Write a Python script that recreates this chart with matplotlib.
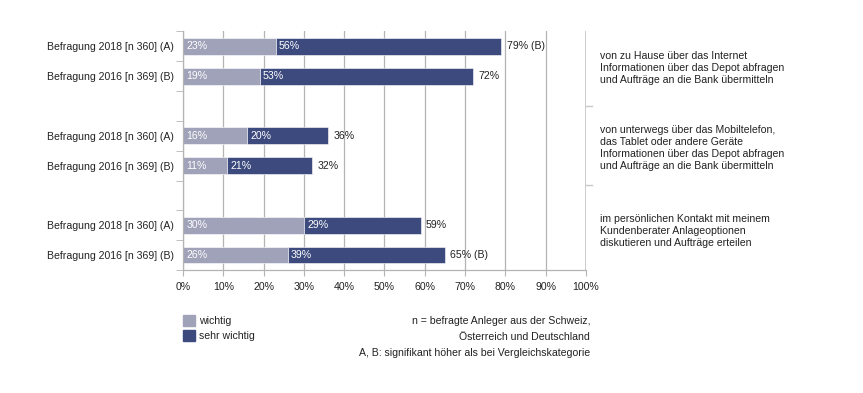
import matplotlib
matplotlib.use("Agg")
import matplotlib.pyplot as plt
import numpy as np

plt.rcParams["font.family"] = ["Liberation Sans", "DejaVu Sans"]

# --- data -------------------------------------------------------------------
row_labels = [
    "Befragung 2018 [n 360] (A)", "Befragung 2016 [n 369] (B)",
    "Befragung 2018 [n 360] (A)", "Befragung 2016 [n 369] (B)",
    "Befragung 2018 [n 360] (A)", "Befragung 2016 [n 369] (B)",
]
wichtig = [23, 19, 16, 11, 30, 26]
sehr_wichtig = [56, 53, 20, 21, 29, 39]
totals = [79, 72, 36, 32, 59, 65]
total_suffix = [" (B)", "", "", "", "", " (B)"]
group_labels = [
    "von zu Hause über das Internet\nInformationen über das Depot abfragen\nund Aufträge an die Bank übermitteln",
    "von unterwegs über das Mobiltelefon,\ndas Tablet oder andere Geräte\nInformationen über das Depot abfragen\nund Aufträge an die Bank übermitteln",
    "im persönlichen Kontakt mit meinem\nKundenberater Anlageoptionen\ndiskutieren und Aufträge erteilen",
]
x_ticks = list(range(0, 101, 10))
notes = [
    "n = befragte Anleger aus der Schweiz,",
    "Österreich und Deutschland",
    "A, B: signifikant höher als bei Vergleichskategorie",
]

LIGHT = "#9fa2b8"
DARK = "#3c4a7d"
GRID = "#b4b4b4"
TXT = "#222222"
FS = 7.6

# bar slots: two bars per group, one empty slot between groups
ypos = [0.5, 1.5, 3.5, 4.5, 6.5, 7.5]
# right-hand text blocks and their dividers (slot units)
label_centers = [1.23, 3.92, 6.69]
dividers = [2.49, 5.14]

fig = plt.figure(figsize=(8.63, 3.93), dpi=100)
ax = fig.add_axes([0.212, 0.313, 0.467, 0.607])

for x in x_ticks[:-1]:
    ax.axvline(x, color=GRID, lw=0.9, zorder=0)
ax.axvline(100, color="#c8c8c8", lw=2.0, zorder=0)

h = 0.56
ax.barh(ypos, wichtig, height=h, color=LIGHT, edgecolor="white", lw=0.4, zorder=2)
ax.barh(ypos, sehr_wichtig, left=wichtig, height=h, color=DARK,
        edgecolor="white", lw=0.4, zorder=2)

for y, a, b, t, s in zip(ypos, wichtig, sehr_wichtig, totals, total_suffix):
    ax.text(0.8, y, f"{a}%", color="white", va="center", ha="left", fontsize=FS, zorder=3)
    ax.text(a + 0.8, y, f"{b}%", color="white", va="center", ha="left", fontsize=FS, zorder=3)
    ax.text(t + 1.3, y, f"{t}%{s}", color=TXT, va="center", ha="left", fontsize=FS, zorder=3)

ax.set_xlim(0, 100)
ax.set_ylim(8, 0)

# y-axis: row labels and group dividers
ax.set_yticks(ypos)
ax.set_yticklabels(row_labels, fontsize=FS, color=TXT)
ax.tick_params(axis="y", which="major", length=0, pad=6.5)
ax.set_yticks(np.arange(0, 9), minor=True)
ax.tick_params(axis="y", which="minor", length=5, color=GRID, direction="out")

ax.set_xticks(x_ticks)
ax.set_xticklabels([f"{x}%" for x in x_ticks], fontsize=FS, color=TXT)
ax.tick_params(axis="x", length=4, color=GRID, pad=5)

for side in ["top", "right"]:
    ax.spines[side].set_visible(False)
ax.spines["left"].set_color(GRID)
ax.spines["left"].set_linewidth(0.9)
ax.spines["bottom"].set_color(GRID)
ax.spines["bottom"].set_linewidth(0.9)

# small dividers right of the 100% line
for yy in dividers:
    ax.plot([100, 101.6], [yy, yy], color="#c8c8c8", lw=1.0, clip_on=False)

for yc, lab in zip(label_centers, group_labels):
    ax.text(103.6, yc, lab, fontsize=FS, va="center", ha="left", color=TXT,
            linespacing=1.26)

# legend
fig.patches.append(plt.Rectangle((183 / 863, 1 - 326 / 393), 12 / 863, 11 / 393,
                                 transform=fig.transFigure, color=LIGHT))
fig.patches.append(plt.Rectangle((183 / 863, 1 - 341 / 393), 12 / 863, 11 / 393,
                                 transform=fig.transFigure, color=DARK))
fig.text(199 / 863, 1 - 321 / 393, "wichtig", fontsize=FS, va="center", color=TXT)
fig.text(199 / 863, 1 - 336 / 393, "sehr wichtig", fontsize=FS, va="center", color=TXT)

for i, n in enumerate(notes):
    fig.text(590 / 863, 1 - (321 + 16 * i) / 393, n, fontsize=FS, va="center",
             ha="right", color=TXT)

fig.savefig("out.png", dpi=100, facecolor="white")
